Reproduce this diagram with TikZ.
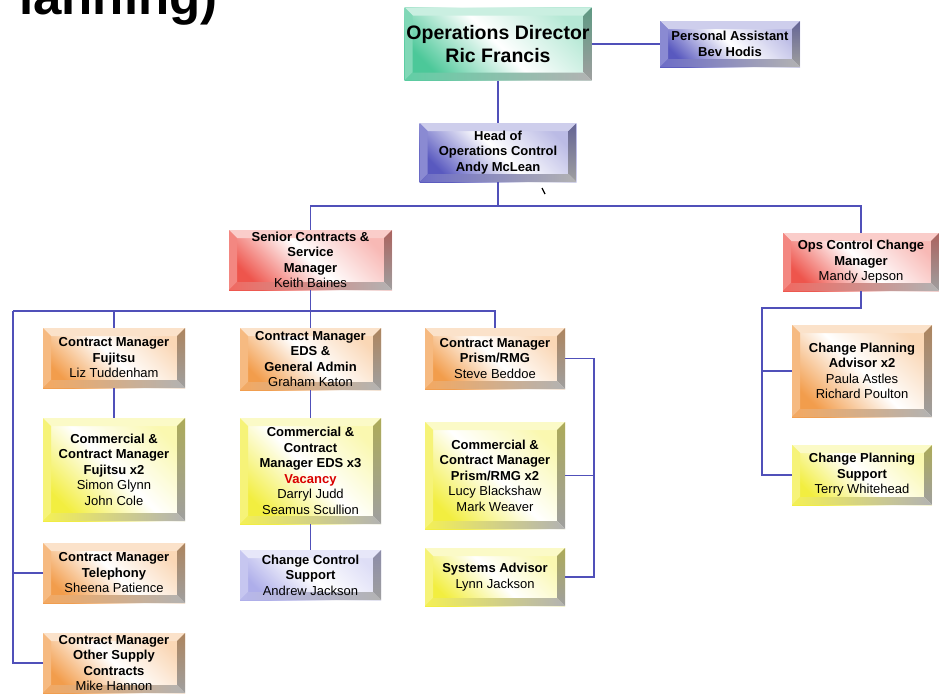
\documentclass[tikz,border=0pt]{standalone}
\usepackage{fontspec}
\setmainfont{Liberation Sans}
\usepackage{tikz}
\usetikzlibrary{arrows,shapes}
\usetikzlibrary{positioning,calc}
\definecolor{opsgreen}{RGB}{45,190,135}
\definecolor{opsblue}{RGB}{60,60,180}
\definecolor{opsred}{RGB}{235,55,45}
\definecolor{opsorange}{RGB}{240,140,45}
\definecolor{opsyellow}{RGB}{240,235,30}
\definecolor{opslilac}{RGB}{160,160,230}
\definecolor{linkblue}{RGB}{80,80,185}
\newcommand\bevw{8pt}
\newcommand\nm[1]{{\mdseries #1}}
\tikzset{
  bevel/.style={
    inner sep=0pt, align=center, text=black,
    font=\fontsize{13}{15.5}\selectfont\bfseries,
    shading=axis, top color=#1!35, bottom color=#1!85, middle color=white,
    shading angle=-45,
    path picture={
      \coordinate (o1) at (path picture bounding box.south west);
      \coordinate (o2) at (path picture bounding box.south east);
      \coordinate (o3) at (path picture bounding box.north east);
      \coordinate (o4) at (path picture bounding box.north west);
      \coordinate (i1) at ($(o1)+(\bevw,\bevw)$);
      \coordinate (i2) at ($(o2)+(-\bevw,\bevw)$);
      \coordinate (i3) at ($(o3)+(-\bevw,-\bevw)$);
      \coordinate (i4) at ($(o4)+(\bevw,-\bevw)$);
      \fill[#1!25] (o4) -- (o3) -- (i3) -- (i4) -- cycle;
      \fill[#1!60] (o1) -- (o4) -- (i4) -- (i1) -- cycle;
      \shade[top color=#1!40!gray, bottom color=gray!75] (o2) -- (o3) -- (i3) -- (i2) -- cycle;
      \shade[left color=#1!75, right color=gray!60] (o1) -- (o2) -- (i2) -- (i1) -- cycle;
    }
  }
}
\tikzstyle{greenbox} = [bevel=opsgreen]
\tikzstyle{bluebox} = [bevel=opsblue]
\tikzstyle{redbox} = [bevel=opsred]
\tikzstyle{orangebox} = [bevel=opsorange]
\tikzstyle{yellowbox} = [bevel=opsyellow]
\tikzstyle{lilacbox} = [bevel=opslilac]
\tikzstyle{link} = [draw=linkblue, line width=1.2pt]

\begin{document}
\begin{tikzpicture}[x=1pt, y=1pt]
  \useasboundingbox (0,0) rectangle (939,-696);
  \clip (0,0) rectangle (939,-696);
  \node [anchor=base west, inner sep=0pt, font=\fontsize{51}{56}\selectfont\bfseries] (title) at (19,-14) {lanning)};

  \node [greenbox, minimum width=187pt, minimum height=73pt, font=\fontsize{19.5}{23.5}\selectfont\bfseries] (dir) at (498,-44) {Operations Director\\Ric Francis};
  \node [bluebox, minimum width=140pt, minimum height=46pt] (pa) at (730,-44) {Personal Assistant\\Bev Hodis};
  \node [bluebox, below of=dir, node distance=108.5pt, minimum width=157pt, minimum height=59pt] (head) {Head of\\Operations Control\\Andy McLean};

  \node [redbox, minimum width=163pt, minimum height=60pt] (scsm) at (310.5,-260) {Senior Contracts \&\\Service\\Manager\\\nm{Keith Baines}};
  \node [redbox, minimum width=156pt, minimum height=58pt] (occm) at (861,-262) {Ops Control Change\\Manager\\\nm{Mandy Jepson}};

  \node [orangebox, minimum width=142pt, minimum height=60pt] (cmf) at (114,-358) {Contract Manager\\Fujitsu\\\nm{Liz Tuddenham}};
  \node [yellowbox, below of=cmf, node distance=111.5pt, minimum width=142pt, minimum height=103pt] (ccmf) {Commercial \&\\Contract Manager\\Fujitsu x2\\\nm{Simon Glynn}\\\nm{John Cole}};
  \node [orangebox, below of=ccmf, node distance=103.5pt, minimum width=142pt, minimum height=60pt] (cmt) {Contract Manager\\Telephony\\\nm{Sheena Patience}};
  \node [orangebox, below of=cmt, node distance=90pt, minimum width=142pt, minimum height=60pt] (cmo) {Contract Manager\\Other Supply\\Contracts\\\nm{Mike Hannon}};

  \node [orangebox, minimum width=141pt, minimum height=62pt] (cmeds) at (310.5,-359) {Contract Manager\\EDS \&\\General Admin\\\nm{Graham Katon}};
  \node [yellowbox, below of=cmeds, node distance=112pt, minimum width=141pt, minimum height=106pt] (cceds) {Commercial \&\\Contract\\Manager EDS x3\\\textcolor{red!85!black}{Vacancy}\\\nm{Darryl Judd}\\\nm{Seamus Scullion}};
  \node [lilacbox, below of=cceds, node distance=104pt, minimum width=141pt, minimum height=50pt] (ccs) {Change Control\\Support\\\nm{Andrew Jackson}};

  \node [orangebox, minimum width=140pt, minimum height=61pt] (cmp) at (495,-358.5) {Contract Manager\\Prism/RMG\\\nm{Steve Beddoe}};
  \node [yellowbox, below of=cmp, node distance=117pt, minimum width=140pt, minimum height=107pt] (ccp) {Commercial \&\\Contract Manager\\Prism/RMG x2\\\nm{Lucy Blackshaw}\\\nm{Mark Weaver}};
  \node [yellowbox, below of=ccp, node distance=101.5pt, minimum width=140pt, minimum height=58pt] (sa) {Systems Advisor\\\nm{Lynn Jackson}};

  \node [orangebox, minimum width=140pt, minimum height=92pt] (cpa) at (862,-371) {Change Planning\\Advisor x2\\\nm{Paula Astles}\\\nm{Richard Poulton}};
  \node [yellowbox, below of=cpa, node distance=104pt, minimum width=140pt, minimum height=60pt] (cps) {Change Planning\\Support\\\nm{Terry Whitehead}};

  \coordinate (bus1) at (498,-206);
  \coordinate (bus2) at (310.5,-311);
  \coordinate (spine) at (13,-311);
  \coordinate (pspine) at (594,-358.5);
  \coordinate (cspine) at (762,-308);

  \draw [link] (dir) -- (pa);
  \draw [link] (dir) -- (head);
  \draw [link] (head) -- (bus1);
  \draw [link] (scsm.north) |- (bus1) -| (occm.north);
  \draw [link] (scsm) -- (bus2);
  \draw [link] (spine) -- (bus2) -| (cmp.north);
  \draw [link] (cmf.north) -- (cmf.north |- bus2);
  \draw [link] (cmeds) -- (bus2);
  \draw [link] (spine) |- (cmo.west);
  \draw [link] (spine |- cmt.west) -- (cmt.west);
  \draw [link] (cmf) -- (ccmf);
  \draw [link] (cmeds) -- (cceds);
  \draw [link] (cceds) -- (ccs);
  \draw [link] (cmp.east) -- (pspine) |- (sa.east);
  \draw [link] (ccp.east) -- (ccp.east -| pspine);
  \draw [link] (occm.south) |- (cspine) |- (cps.west);
  \draw [link] (cpa.west -| cspine) -- (cpa.west);
  \draw [line width=1.2pt] (542,-188) -- (545,-194);
\end{tikzpicture}
\end{document}
